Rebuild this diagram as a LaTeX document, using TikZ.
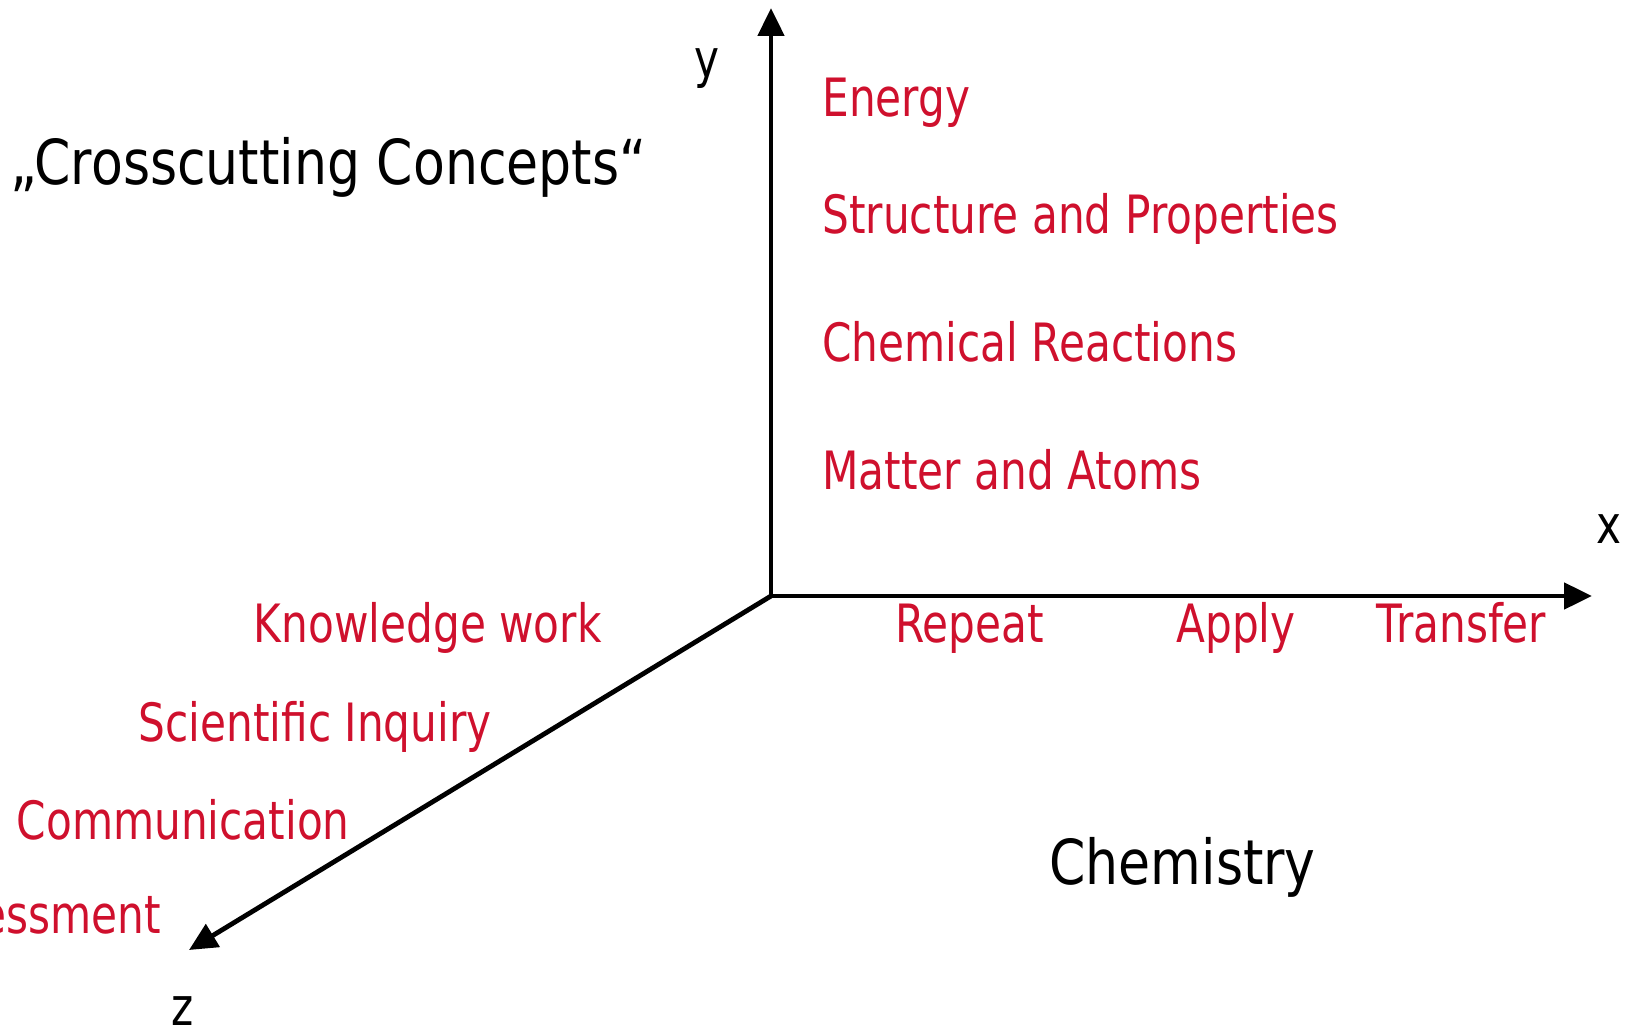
\documentclass[tikz,border=0pt]{standalone}
\usepackage{fontspec}
\setmainfont[FakeStretch=0.80]{DejaVu Sans}
\newfontfamily\bigfont[FakeStretch=0.84]{DejaVu Sans}
\usetikzlibrary{arrows.meta}
\definecolor{lbred}{RGB}{207,16,45}
\begin{document}
\begin{tikzpicture}[x=0.5pt,y=-0.5pt,
  axis/.style={line width=2.4pt,-{Triangle[length=14pt,width=13pt]}},
  lbl/.style={inner sep=0pt,font=\fontsize{26.4}{30}\selectfont},
  redw/.style={lbl,text=lbred,anchor=base west},
  rede/.style={lbl,text=lbred,anchor=base east},
  big/.style={inner sep=0pt,anchor=base west,font=\bigfont\fontsize{31}{36}\selectfont}]
\clip (0,0) rectangle (1631,1026);
\coordinate (O) at (771,596);
\coordinate (ytip) at (771,8);
\coordinate (xtip) at (1592,596);
\coordinate (ztip) at (189,950);
\draw[axis] (O) -- (ytip);
\draw[axis] (O) -- (xtip);
\draw[axis] (O) -- (ztip);
\node[lbl,anchor=base] (ylab) at (707,78) {y};
\node[lbl,anchor=base] (xlab) at (1609,543) {x};
\node[lbl,anchor=base] (zlab) at (183,1025) {z};
\node[big] (title) at (10,185) {„Crosscutting Concepts“};
\node[big] (chem) at (1049,884) {Chemistry};
\node[redw] (energy) at (822,117) {Energy};
\node[redw] (struct) at (822,234) {Structure and Properties};
\node[redw] (react) at (822,361) {Chemical Reactions};
\node[redw] (matter) at (822,489) {Matter and Atoms};
\node[redw] (repeat) at (895,642) {Repeat};
\node[redw] (apply) at (1176,642) {Apply};
\node[redw] (transfer) at (1376,642) {Transfer};
\node[rede] (know) at (602,642) {Knowledge work};
\node[rede] (sci) at (492,741) {Scientific Inquiry};
\node[rede] (comm) at (350,839) {Communication};
\node[rede] (assess) at (161,933) {Assessment};
\end{tikzpicture}
\end{document}
